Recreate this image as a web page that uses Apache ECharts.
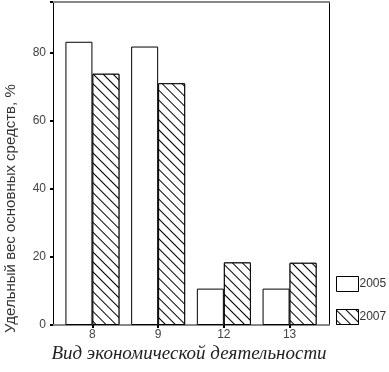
<!DOCTYPE html>
<html>
<head>
<meta charset="utf-8">
<script src="https://cdn.jsdelivr.net/npm/echarts@6/dist/echarts.min.js"></script>
<style>html,body{margin:0;padding:0;background:#fff}#c{width:389px;height:372px}</style>
</head>
<body>
<div id="c"></div>
<script>
const categories = ['8', '9', '12', '13'];
const seriesNames = ['2005', '2007'];
const values2005 = [83.3, 81.9, 10.7, 10.7];
const values2007 = [73.9, 71.1, 18.4, 18.3];
const yTicks = [0, 20, 40, 60, 80];
const yTitle = 'Удельный вес основных средств, %';
const xTitle = 'Вид экономической деятельности';

const chart = echarts.init(document.getElementById('c'));
const idx = categories.map((_, i) => i);
const hatch = {
  color: '#000',
  backgroundColor: '#fff',
  symbol: 'rect',
  symbolSize: 1,
  dashArrayX: [1, 0],
  dashArrayY: [1, 6],
  rotation: Math.PI / 4
};
chart.setOption({
  animation: false,
  backgroundColor: '#fff',
  grid: { left: 53, top: 2, width: 276, height: 323, show: false },
  xAxis: [{
    type: 'value', min: -0.6, max: 3.6,
    axisLine: { show: true, lineStyle: { color: '#888', width: 2 } },
    axisTick: { show: true, customValues: idx, length: 3, lineStyle: { color: '#000', width: 2 } },
    axisLabel: { customValues: idx, formatter: v => categories[Math.round(v)], color: '#444', fontFamily: 'Liberation Sans', fontSize: 12, margin: 4 },
    splitLine: { show: false }
  }, {
    type: 'value', min: -0.6, max: 3.6, position: 'top',
    axisLine: { show: true, onZero: false, lineStyle: { color: '#888', width: 2 } },
    axisTick: { show: false }, axisLabel: { show: false }, splitLine: { show: false }
  }],
  yAxis: [{
    type: 'value', min: 0, max: 95, interval: 20,
    axisLine: { show: true, onZero: false, lineStyle: { color: '#000', width: 1 } },
    axisTick: { show: true, length: 3, lineStyle: { color: '#000', width: 2 } },
    axisLabel: { color: '#444', fontFamily: 'Liberation Sans', fontSize: 12, margin: 7,
      formatter: v => yTicks.includes(v) ? String(v) : '' },
    splitLine: { show: false }
  }, {
    type: 'value', min: 0, max: 95, position: 'right',
    axisLine: { show: true, onZero: false, lineStyle: { color: '#000', width: 1 } },
    axisTick: { show: false }, axisLabel: { show: false }, splitLine: { show: false }
  }],
  legend: {
    orient: 'vertical', left: 336, top: 276, itemWidth: 22, itemHeight: 15, itemGap: 17, padding: 0,
    icon: 'rect',
    itemStyle: { borderColor: '#000', borderWidth: 1 },
    textStyle: { fontFamily: 'Liberation Sans', fontSize: 12, color: '#333', padding: [0, 0, 0, -4] },
    data: seriesNames
  },
  graphic: [
    { type: 'text', x: 3, y: 333, rotation: Math.PI / 2, style: { text: yTitle, fontFamily: 'Liberation Sans', fontSize: 15, fill: '#333' } },
    { type: 'text', x: 189, y: 354, style: { text: xTitle, fontFamily: 'Liberation Serif', fontStyle: 'italic', fontSize: 19, fill: '#222', align: 'center', verticalAlign: 'middle' } }
  ],
  series: [
    { name: seriesNames[0], type: 'bar', barWidth: 27, barGap: '0%',
      data: values2005.map((v, i) => [i, v]),
      itemStyle: { color: '#fff', borderColor: '#000', borderWidth: 1 } },
    { name: seriesNames[1], type: 'bar', barWidth: 27, barGap: '0%',
      data: values2007.map((v, i) => [i, v]),
      itemStyle: { color: '#fff', borderColor: '#000', borderWidth: 1, decal: hatch } }
  ]
});
</script>
</body>
</html>
